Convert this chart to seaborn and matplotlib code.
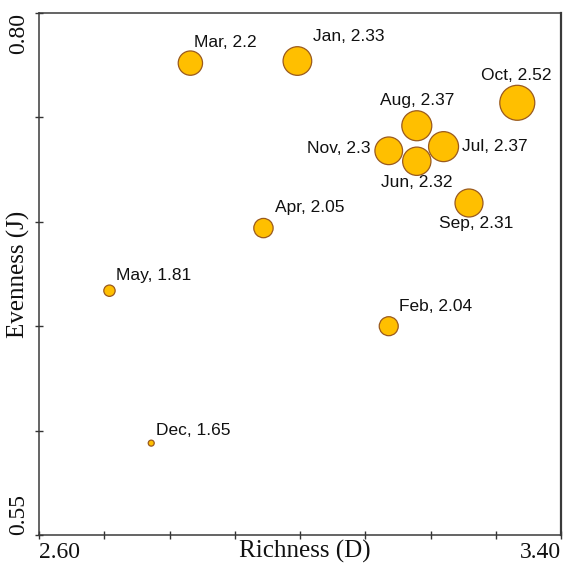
import numpy as np
import pandas as pd
import matplotlib
matplotlib.use("Agg")
import matplotlib.pyplot as plt
import seaborn as sns

# Monthly diversity indices
months = ["Jan", "Feb", "Mar", "Apr", "May", "Jun",
          "Jul", "Aug", "Sep", "Oct", "Nov", "Dec"]
richness = [2.996, 3.136, 2.832, 2.944, 2.708, 3.179,
            3.220, 3.179, 3.259, 3.333, 3.136, 2.772]
evenness = [0.777, 0.650, 0.776, 0.697, 0.667, 0.729,
            0.736, 0.746, 0.709, 0.757, 0.734, 0.594]
shannon = [2.33, 2.04, 2.2, 2.05, 1.81, 2.32,
           2.37, 2.37, 2.31, 2.52, 2.3, 1.65]

df = pd.DataFrame({"month": months, "D": richness, "J": evenness, "H": shannon})
df["label"] = [f"{m}, {h:g}" for m, h in zip(months, shannon)]

# Bubble diameter grows linearly with H (diameter in points -> area)
def bubble_area(h):
    d_pt = (6.0 + (h - 1.65) * 33.3) * 0.72
    return d_pt ** 2

size_map = {h: bubble_area(h) for h in sorted(set(shannon))}

# Label placement: offset in points from the bubble centre, horizontal alignment
label_pos = {
    "Jan": (11, 17.5, "left"),
    "Feb": (7.5, 14.5, "left"),
    "Mar": (2.5, 15, "left"),
    "Apr": (8, 14.5, "left"),
    "May": (4.6, 11, "left"),
    "Jun": (0, -15.5, "center"),
    "Jul": (13, 0, "left"),
    "Aug": (0, 18.5, "center"),
    "Sep": (5, -14.5, "center"),
    "Oct": (-1, 20, "center"),
    "Nov": (-13.3, 1.5, "right"),
    "Dec": (3.4, 9.2, "left"),
}

sns.set_theme(style="white")
plt.rcParams["font.family"] = ["Liberation Serif", "DejaVu Serif"]

fig = plt.figure(figsize=(5.63, 5.64), dpi=100)
ax = fig.add_axes([39 / 563, 1 - 535 / 564, 522 / 563, 522 / 564])

sns.scatterplot(data=df, x="D", y="J", size="H", sizes=size_map,
                color="#FFBF00", edgecolor="#9A5A1E", linewidth=0.9,
                alpha=1, legend=False, ax=ax, zorder=3)

for _, r in df.iterrows():
    dx, dy, ha = label_pos[r["month"]]
    ax.annotate(r["label"], (r["D"], r["J"]), xytext=(dx, dy),
                textcoords="offset points", ha=ha, va="center",
                fontsize=12.5, family=["Liberation Sans", "DejaVu Sans"],
                color="#111111", zorder=4)

ax.set_xlim(2.6, 3.4)
ax.set_ylim(0.55, 0.80)
ax.set_xticks([2.6, 3.4])
ax.set_xticklabels(["2.60", "3.40"])
ax.set_xticks(np.arange(2.7, 3.35, 0.1), minor=True)
ax.set_yticks([0.55, 0.80])
ax.set_yticklabels(["0.55", "0.80"])
ax.set_yticks(np.arange(0.60, 0.78, 0.05), minor=True)

ax.tick_params(which="both", direction="inout", length=6, width=1,
               color="#333333", labelsize=17, labelcolor="#111111")
ax.tick_params(axis="x", which="both", bottom=True, pad=2)
ax.tick_params(axis="y", which="both", left=True, pad=4)

xl = ax.get_xticklabels()
xl[0].set_ha("left")
xl[1].set_ha("right")
yl = ax.get_yticklabels()
for t in yl:
    t.set_rotation(90)
    t.set_rotation_mode("default")
yl[0].set_va("bottom")
yl[1].set_va("top")

ax.set_xlabel("Richness (D)", fontsize=18, color="#111111")
ax.set_ylabel("Evenness (J)", fontsize=18, color="#111111")
ax.xaxis.set_label_coords(0.51, -0.010)
ax.xaxis.label.set_va("top")
ax.yaxis.set_label_coords(-0.04, 0.5)
ax.yaxis.label.set_va("center")

for side in ["left", "bottom", "top", "right"]:
    ax.spines[side].set_visible(True)
    ax.spines[side].set_color("#3a3a3a")
    ax.spines[side].set_linewidth(1.1)
ax.spines["right"].set_linewidth(1.6)

fig.savefig("out.png", dpi=100)
